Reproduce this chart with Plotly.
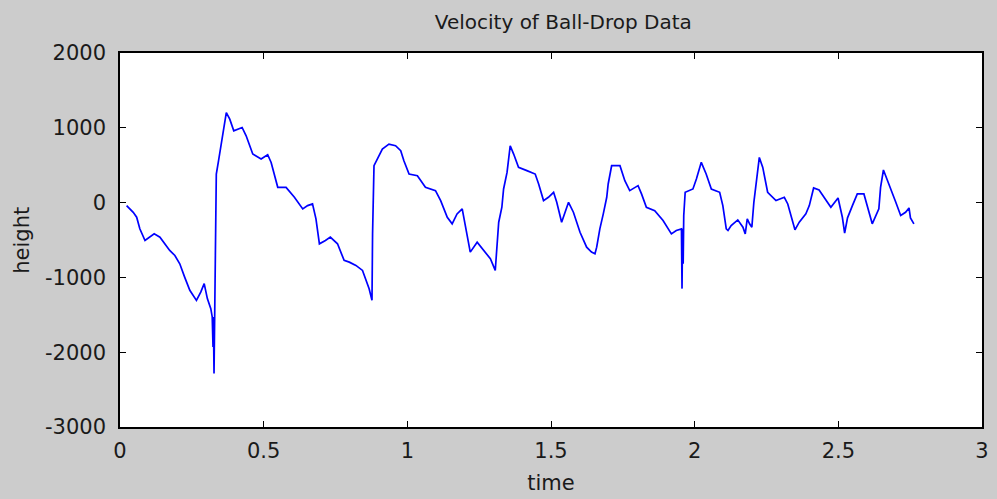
import plotly.graph_objects as go

title_text = "Velocity of Ball-Drop Data"
x_label = "time"
y_label = "height"

x_ticks = [0, 0.5, 1, 1.5, 2, 2.5, 3]
x_tick_labels = ["0", "0.5", "1", "1.5", "2", "2.5", "3"]
y_ticks = [-3000, -2000, -1000, 0, 1000, 2000]
y_tick_labels = ["-3000", "-2000", "-1000", "0", "1000", "2000"]

time = [
    0.023, 0.046, 0.058, 0.069, 0.087, 0.104, 0.119, 0.139, 0.156, 0.173,
    0.191, 0.208, 0.225, 0.243, 0.266, 0.281, 0.293, 0.304, 0.316, 0.321,
    0.3237, 0.325, 0.3272, 0.3318, 0.3352, 0.343, 0.350, 0.358, 0.370, 0.382,
    0.396, 0.425, 0.439, 0.462, 0.491, 0.514, 0.526, 0.549, 0.578, 0.607,
    0.636, 0.653, 0.670, 0.682, 0.694, 0.715, 0.732, 0.757, 0.780, 0.798,
    0.821, 0.844, 0.855, 0.867, 0.877, 0.879, 0.884, 0.896, 0.913, 0.936,
    0.959, 0.977, 0.988, 1.006, 1.035, 1.063, 1.098, 1.116, 1.139, 1.156,
    1.173, 1.191, 1.202, 1.219, 1.243, 1.266, 1.289, 1.306, 1.312, 1.318,
    1.329, 1.335, 1.347, 1.353, 1.358, 1.370, 1.387, 1.416, 1.445, 1.457,
    1.474, 1.491, 1.509, 1.520, 1.537, 1.561, 1.578, 1.601, 1.624, 1.641,
    1.653, 1.659, 1.670, 1.682, 1.694, 1.699, 1.711, 1.740, 1.757, 1.774,
    1.803, 1.815, 1.832, 1.861, 1.890, 1.919, 1.936, 1.954, 1.956, 1.958,
    1.960, 1.962, 1.967, 1.994, 2.006, 2.023, 2.040, 2.058, 2.087, 2.098,
    2.110, 2.116, 2.127, 2.150, 2.168, 2.176, 2.183, 2.191, 2.199, 2.206,
    2.214, 2.225, 2.237, 2.254, 2.283, 2.312, 2.324, 2.335, 2.349, 2.364,
    2.387, 2.399, 2.414, 2.433, 2.451, 2.474, 2.499, 2.514, 2.522, 2.532,
    2.549, 2.566, 2.589, 2.601, 2.618, 2.641, 2.647, 2.657, 2.665, 2.682,
    2.700, 2.717, 2.734, 2.746, 2.751, 2.763,
]

velocity = [
    -40, -130, -195, -350, -507, -462, -418, -462, -551, -640,
    -707, -818, -996, -1173, -1307, -1196, -1084, -1284, -1418, -1529,
    -1929, -1529, -2284, -996, 382, 560, 737, 916, 1204, 1115,
    960, 1004, 893, 649, 582, 640, 537, 204, 204, 71,
    -84, -40, -17, -217, -551, -507, -462, -551, -773, -796,
    -840, -907, -1018, -1151, -1307, -418, 493, 582, 716, 782,
    760, 693, 560, 382, 360, 204, 160, 27, -196, -284,
    -151, -84, -329, -662, -529, -640, -751, -907, -596, -262,
    -62, 182, 404, 627, 760, 649, 471, 427, 382, 249,
    27, 71, 138, 4, -262, 4, -129, -396, -596, -662,
    -684, -596, -351, -151, 71, 249, 493, 493, 293, 160,
    227, 116, -62, -107, -240, -418, -373, -351, -1150, -351,
    -818, -173, 138, 182, 316, 538, 382, 182, 138, -40,
    -351, -373, -307, -231, -329, -418, -218, -284, -329, 4,
    227, 604, 471, 138, 27, 71, -18, -173, -364, -262,
    -151, -40, 196, 169, 71, -62, 62, -196, -409, -204,
    -40, 116, 116, -40, -284, -84, 204, 436, 360, 182,
    4, -173, -129, -71, -204, -284,
]

fig = go.Figure()
fig.add_trace(go.Scatter(
    x=time, y=velocity, mode="lines",
    line=dict(color="#0000ff", width=1.7),
    showlegend=False,
))

font_family = "DejaVu Sans, Verdana, sans-serif"
text_color = "#1a1a1a"

axis_common = dict(
    showgrid=False, zeroline=False, showline=True, linecolor="black",
    linewidth=1.5, mirror="ticks", ticks="inside", ticklen=6,
    tickcolor="black", tickwidth=1,
    tickfont=dict(family=font_family, size=21, color=text_color),
)

fig.update_layout(
    width=997, height=499,
    paper_bgcolor="#cccccc", plot_bgcolor="white",
    margin=dict(l=120, r=8, t=53, b=72),
    title=dict(text=title_text, xref="container", x=0.565, xanchor="center",
               y=0.956, yanchor="middle",
               font=dict(family=font_family, size=20, color=text_color)),
    xaxis=dict(range=[0, 3], tickvals=x_ticks, ticktext=x_tick_labels,
               ticklabelstandoff=4,
               title=dict(text=x_label, standoff=13,
                          font=dict(family=font_family, size=21, color=text_color)),
               **axis_common),
    yaxis=dict(range=[-3000, 2000], tickvals=y_ticks, ticktext=y_tick_labels,
               ticklabelstandoff=8, **axis_common),
    annotations=[dict(
        text=y_label, textangle=-90, showarrow=False,
        xref="paper", yref="paper", x=-0.114, y=0.5,
        xanchor="center", yanchor="middle",
        font=dict(family=font_family, size=21, color=text_color),
    )],
)

fig.write_html(
    "out.html",
    config={"displayModeBar": False},
    post_script="document.body.style.margin='0';document.body.style.background='#cccccc';",
)
